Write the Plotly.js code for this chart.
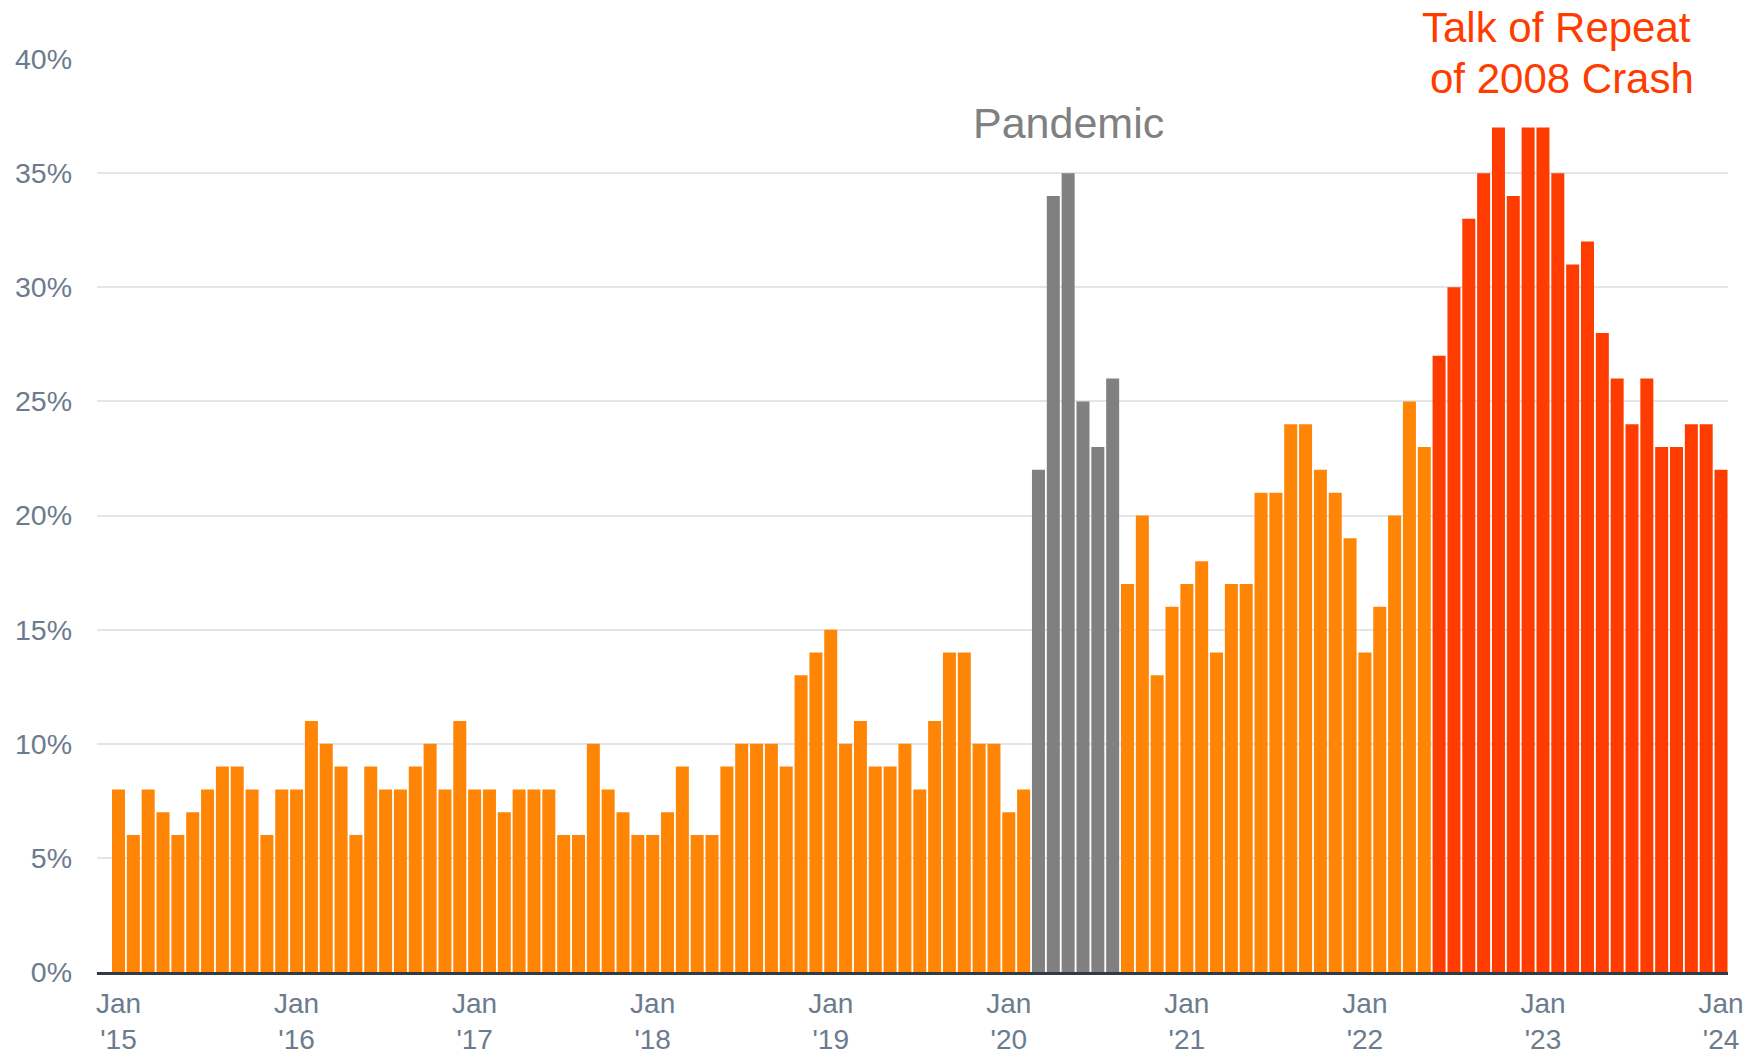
<!DOCTYPE html>
<html>
<head>
<meta charset="utf-8">
<script src="https://cdn.plot.ly/plotly-3.0.1.min.js"></script>
<style>
  html, body { margin: 0; padding: 0; background: #ffffff; }
  #chart { width: 1752px; height: 1054px; }
</style>
</head>
<body>
<div id="chart"></div>
<script>
// ---- Data (percent, monthly) ----
const years = ['2015', '2016', '2017', '2018', '2019', '2020', '2021', '2022', '2023', '2024'];
const monthNums = ['01', '02', '03', '04', '05', '06', '07', '08', '09', '10', '11', '12'];

const v2015 = [8, 6, 8, 7, 6, 7, 8, 9, 9, 8, 6, 8];
const v2016 = [8, 11, 10, 9, 6, 9, 8, 8, 9, 10, 8, 11];
const v2017 = [8, 8, 7, 8, 8, 8, 6, 6, 10, 8, 7, 6];
const v2018 = [6, 7, 9, 6, 6, 9, 10, 10, 10, 9, 13, 14];
const v2019 = [15, 10, 11, 9, 9, 10, 8, 11, 14, 14, 10, 10];
const v2020 = [7, 8, 22, 34, 35, 25, 23, 26, 17, 20, 13, 16];
const v2021 = [17, 18, 14, 17, 17, 21, 21, 24, 24, 22, 21, 19];
const v2022 = [14, 16, 20, 25, 23, 27, 30, 33, 35, 37, 34, 37];
const v2023 = [37, 35, 31, 32, 28, 26, 24, 26, 23, 23, 24, 24];
const v2024 = [22];

const pandemicMonths = ['2020-03', '2020-04', '2020-05', '2020-06', '2020-07', '2020-08'];
const crashStart = '2022-06';

const yTickVals = [0, 5, 10, 15, 20, 25, 30, 35, 40];
const yTickText = ['0%', '5%', '10%', '15%', '20%', '25%', '30%', '35%', '40%'];

// ---- Build series ----
const yearValues = [v2015, v2016, v2017, v2018, v2019, v2020, v2021, v2022, v2023, v2024];
const months = [];
const values = [];
yearValues.forEach((arr, yi) => {
  arr.forEach((v, mi) => {
    months.push(years[yi] + '-' + monthNums[mi]);
    values.push(v);
  });
});

const ORANGE = '#ff8506';
const GREY = '#808080';
const RED = '#ff3c00';
const colors = months.map(m => {
  if (pandemicMonths.includes(m)) return GREY;
  if (m >= crashStart) return RED;
  return ORANGE;
});

const xTickVals = months.filter(m => m.endsWith('-01'));
const xTickText = xTickVals.map(m => "Jan<br>'" + m.slice(2, 4));

const FONT = 'Liberation Sans, Arial, Helvetica, sans-serif';
const TICKCOLOR = '#6c7b8e';

const trace = {
  type: 'bar',
  x: months,
  y: values,
  marker: { color: colors, line: { width: 0 } },
  hoverinfo: 'x+y'
};

const layout = {
  width: 1752,
  height: 1054,
  margin: { l: 97, r: 24, t: 59, b: 82 },
  paper_bgcolor: '#ffffff',
  plot_bgcolor: '#ffffff',
  showlegend: false,
  bargap: 0.124,
  font: { family: FONT, size: 28, color: TICKCOLOR },
  xaxis: {
    type: 'category',
    range: [-1.45, months.length - 1 + 0.47],
    tickmode: 'array',
    tickvals: xTickVals,
    ticktext: xTickText,
    tickfont: { family: FONT, size: 28, color: TICKCOLOR },
    showgrid: false,
    zeroline: false,
    showline: true,
    linecolor: '#343a42',
    linewidth: 3,
    ticks: '',
    ticklabelstandoff: 4
  },
  yaxis: {
    range: [0, 40],
    tickmode: 'array',
    tickvals: yTickVals,
    ticktext: yTickText,
    tickfont: { family: FONT, size: 28.5, color: TICKCOLOR },
    showgrid: true,
    gridcolor: '#e2e5ea',
    gridwidth: 2,
    zeroline: false,
    showline: false,
    ticks: '',
    ticklabelstandoff: 24
  },
  shapes: [
    {
      type: 'rect',
      xref: 'paper', yref: 'paper',
      x0: 0.798, x1: 0.9994, y0: 0.994, y1: 1.006,
      fillcolor: '#ffffff',
      line: { width: 0 },
      layer: 'above'
    }
  ],
  annotations: [
    {
      text: 'Pandemic',
      xref: 'x', yref: 'y',
      x: 64, y: 37.2,
      showarrow: false,
      xanchor: 'center', yanchor: 'middle',
      font: { family: FONT, size: 43, color: '#808080' }
    },
    {
      text: 'Talk of Repeat',
      xref: 'paper', yref: 'paper',
      x: 0.8946, y: 1.035,
      showarrow: false,
      xanchor: 'center', yanchor: 'middle',
      font: { family: FONT, size: 42, color: RED }
    },
    {
      text: 'of 2008 Crash',
      xref: 'paper', yref: 'paper',
      x: 0.898, y: 0.979,
      showarrow: false,
      xanchor: 'center', yanchor: 'middle',
      font: { family: FONT, size: 42, color: RED }
    }
  ]
};

Plotly.newPlot('chart', [trace], layout, { displayModeBar: false, staticPlot: true });
</script>
</body>
</html>
